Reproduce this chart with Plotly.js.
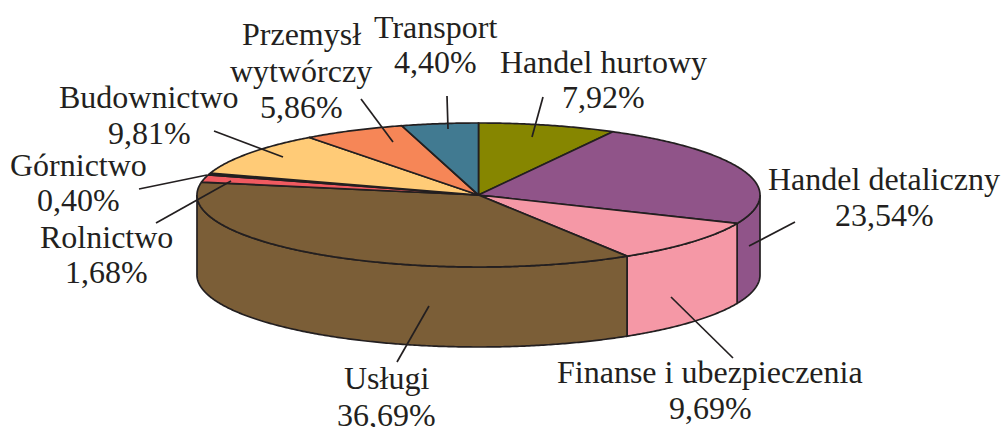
<!DOCTYPE html>
<html>
<head>
<meta charset="utf-8">
<script src="https://cdn.plot.ly/plotly-3.0.1.min.js"></script>
<style>html,body{margin:0;padding:0;background:#fff;overflow:hidden}#chart{width:1003px;height:427px}</style>
</head>
<body>
<div id="chart"></div>
<script>
const categories = ["Handel hurtowy","Handel detaliczny","Finanse i ubezpieczenia","Usługi","Rolnictwo","Górnictwo","Budownictwo","Przemysł<br>wytwórczy","Transport"];
const values = [7.92,23.54,9.69,36.69,1.68,0.40,9.81,5.86,4.40];
const colors = ["#868600","#905489","#F598A6","#7B5E37","#F05A60","#231F20","#FFCB77","#F68657","#417A91"];
const labelX = [603,884,710,386,106,78,149,301,435];
const labelY = [[62,97],[179,215],[372,408],[378,415],[237,272],[165,200],[97,133],[34,71,107],[27,62]];
const leaderFrom = [[543,97],[795,222],[733,358],[397,362],[156,223],[139,189],[214,131],[361,99],[447,96]];
const leaderTo = [[532,137],[749,246],[671,297],[429,306],[231,181],[207,175],[283,157],[393,142],[448,129]];

const ink = "#231F20";
const cx = 478.5, cy = 195, rx = 281.5, ry = 72, depth = 80;
const total = values.reduce((a,b)=>a+b,0);
const px = a => cx + rx*Math.sin(a*Math.PI/180);
const py = a => cy - ry*Math.cos(a*Math.PI/180);
const arc = (a,b) => {const n=Math.max(2,Math.ceil(Math.abs(b-a)*2)),o=[];for(let i=0;i<=n;i++)o.push(a+(b-a)*i/n);return o;};

const traces = [];
const poly = (x,y,color) => traces.push({x,y,type:"scatter",mode:"lines",fill:"toself",fillcolor:color,
  line:{color:ink,width:1.7,simplify:false},hoverinfo:"skip",showlegend:false});

let start = 0;
const spans = values.map(v => {const s=[start,start+v/total*360];start=s[1];return s;});
// outer wall of the disc: only the front half (90..270 degrees) is visible
spans.forEach((s,i) => {
  const a=Math.max(s[0],90), b=Math.min(s[1],270);
  if(b<=a) return;
  const top=arc(a,b), bot=arc(b,a);
  poly(top.map(px).concat(bot.map(px),[px(a)]),
       top.map(py).concat(bot.map(t=>py(t)+depth),[py(a)]),colors[i]);
});
// top face of the disc
spans.forEach((s,i) => {
  const t=arc(s[0],s[1]);
  poly([cx].concat(t.map(px),[cx]),[cy].concat(t.map(py),[cy]),colors[i]);
});
// leader lines
categories.forEach((c,i) => traces.push({x:[leaderFrom[i][0],leaderTo[i][0]],y:[leaderFrom[i][1],leaderTo[i][1]],
  type:"scatter",mode:"lines",line:{color:ink,width:1.7},hoverinfo:"skip",showlegend:false}));

// each text line is placed on its own, the reference's leading is tighter than Plotly's <br> spacing
const annotations = [];
categories.forEach((c,i) => {
  const lines = c.split("<br>").concat(values[i].toFixed(2).replace(".",",")+"%");
  lines.forEach((text,k) => annotations.push({
    x:labelX[i],y:labelY[i][k],xref:"x",yref:"y",xanchor:"center",yanchor:"middle",showarrow:false,
    text,font:{family:"Liberation Serif, serif",size:32,color:ink}
  }));
});

Plotly.newPlot("chart",traces,{
  width:1003,height:427,margin:{l:0,r:0,t:0,b:0},
  paper_bgcolor:"#fff",plot_bgcolor:"#fff",showlegend:false,
  xaxis:{range:[0,1003],visible:false,fixedrange:true},
  yaxis:{range:[427,0],visible:false,fixedrange:true},
  annotations
},{displayModeBar:false,staticPlot:true});
</script>
</body>
</html>
